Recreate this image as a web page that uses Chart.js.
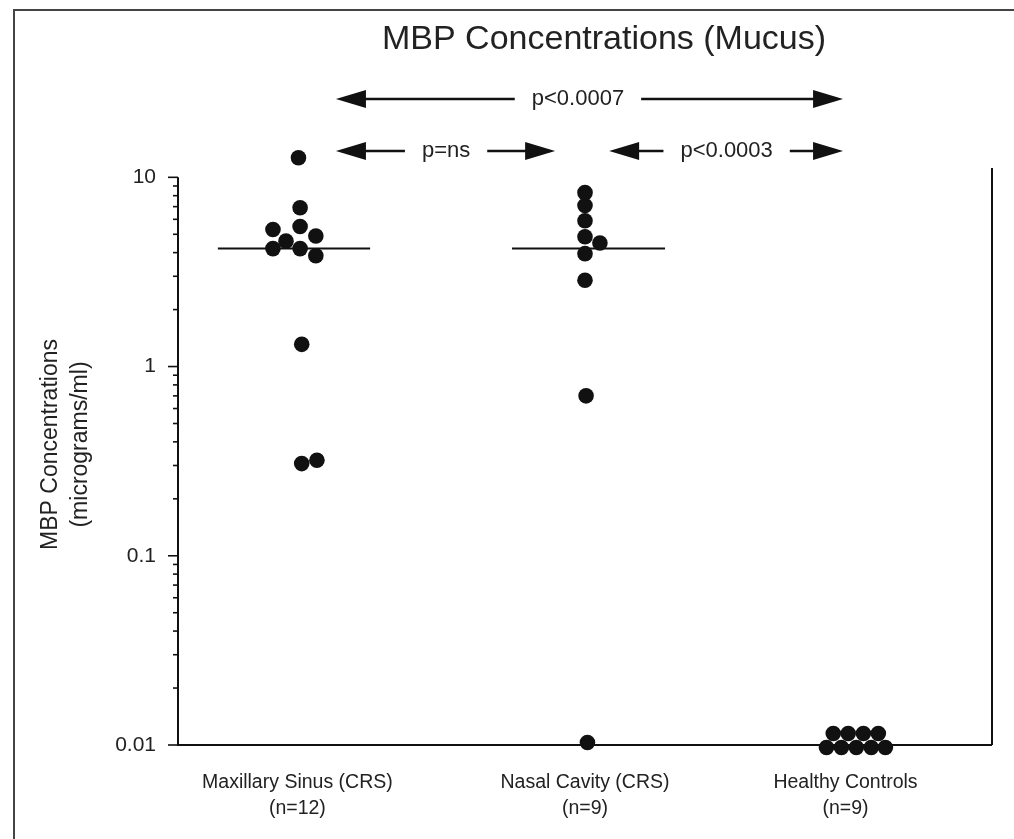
<!DOCTYPE html>
<html>
<head>
<meta charset="utf-8">
<script src="https://cdn.jsdelivr.net/npm/chart.js@4.4.1/dist/chart.umd.min.js"></script>
<style>
  html, body { margin: 0; padding: 0; background: #fff; }
  #wrap { width: 1014px; height: 839px; }
</style>
</head>
<body>
<div id="wrap"><canvas id="mbpChart"></canvas></div>
<script>
// groups on the x axis
const groupLabels = [['Maxillary Sinus (CRS)', '(n=12)'], ['Nasal Cavity (CRS)', '(n=9)'], ['Healthy Controls', '(n=9)']];
const labelPos = [0.44, 1.5, 2.46];
const groupPos = [0.45, 1.5, 2.5];

// MBP values (micrograms/ml)
const maxillaryValues = [12.7, 6.9, 5.3, 5.5, 4.9, 4.6, 4.2, 4.2, 3.85, 1.31, 0.307, 0.32];
const maxillaryJitter = [-0.006, 0, -0.1, 0, 0.058, -0.052, -0.1, 0, 0.058, 0.006, 0.006, 0.062];
const nasalValues = [8.3, 7.1, 5.9, 4.85, 4.5, 3.95, 2.86, 0.7, 0.0103];
const nasalJitter = [0, 0, 0, 0, 0.055, 0, 0, 0.004, 0.009];
const controlValues = [0.0115, 0.0115, 0.0115, 0.0115, 0.0097, 0.0097, 0.0097, 0.0097, 0.0097];
const controlJitter = [-0.085, -0.03, 0.026, 0.081, -0.11, -0.055, 0, 0.055, 0.107];

// median bars
const medianValues = [4.2, 4.2];
const medianSpans = [[0.147, 0.708], [1.231, 1.795]];

// y ticks
const yMajor = [0.01, 0.1, 1, 10];
const yMajorLabels = ['0.01', '0.1', '1', '10'];
const yTicks = [];
yMajor.slice(0, 3).forEach(d => { for (let m = 1; m < 10; m++) yTicks.push(m * d); });
yTicks.push(10);

// significance brackets
const pLabels = ['p<0.0007', 'p=ns', 'p<0.0003'];
const pFrom = [0.582, 0.582, 1.589];
const pTo = [2.451, 1.39, 2.451];
const pMid = [1.474, 0.988, 2.022];
const pRowY = [99, 151, 151];

const ink = '#111';
const font = '"Liberation Sans", Arial, sans-serif';

function pts(vals, jit, g) {
  return vals.map((v, i) => ({ x: groupPos[g] + jit[i], y: v }));
}

const dotStyle = {
  type: 'scatter', showLine: false, pointRadius: 7.8, pointHoverRadius: 7.8,
  pointBackgroundColor: ink, pointBorderWidth: 0, clip: false
};

const datasets = [
  Object.assign({ label: 'Maxillary Sinus', data: pts(maxillaryValues, maxillaryJitter, 0) }, dotStyle),
  Object.assign({ label: 'Nasal Cavity', data: pts(nasalValues, nasalJitter, 1) }, dotStyle),
  Object.assign({ label: 'Healthy Controls', data: pts(controlValues, controlJitter, 2) }, dotStyle)
];
medianValues.forEach((m, i) => {
  datasets.push({
    type: 'line', label: 'median', data: [{ x: medianSpans[i][0], y: m }, { x: medianSpans[i][1], y: m }],
    borderColor: ink, borderWidth: 2, pointRadius: 0, fill: false, order: 5
  });
});

function arrowHead(ctx, tipX, y, dir) {
  ctx.beginPath();
  ctx.moveTo(tipX, y);
  ctx.lineTo(tipX - dir * 30, y - 9);
  ctx.lineTo(tipX - dir * 30, y + 9);
  ctx.closePath();
  ctx.fill();
}

const decorations = {
  id: 'decorations',
  beforeDatasetsDraw(chart) {
    const ctx = chart.ctx, ys = chart.scales.y;
    const left = chart.chartArea.left, right = chart.chartArea.right;
    const y10 = ys.getPixelForValue(10), y001 = ys.getPixelForValue(0.01);
    ctx.save();
    // page frame
    ctx.strokeStyle = '#444';
    ctx.lineWidth = 2;
    ctx.beginPath();
    ctx.moveTo(14, 839); ctx.lineTo(14, 10); ctx.lineTo(1014, 10);
    ctx.stroke();
    // axes
    ctx.strokeStyle = ink;
    ctx.lineWidth = 2;
    ctx.beginPath();
    ctx.moveTo(left, y10); ctx.lineTo(left, y001); ctx.lineTo(right, y001);
    ctx.moveTo(right, y001); ctx.lineTo(right, ys.getPixelForValue(11.2));
    ctx.stroke();
    ctx.lineWidth = 1.6;
    ys.ticks.forEach(t => {
      const y = ys.getPixelForValue(t.value);
      const len = yMajor.includes(t.value) ? 10 : 5;
      ctx.beginPath(); ctx.moveTo(left - len, y); ctx.lineTo(left, y); ctx.stroke();
    });
    ctx.restore();
  },
  afterDraw(chart) {
    const ctx = chart.ctx, xs = chart.scales.x;
    ctx.save();
    ctx.fillStyle = '#222';
    ctx.textBaseline = 'middle';
    ctx.textAlign = 'center';
    ctx.font = '34px ' + font;
    ctx.fillText('MBP Concentrations (Mucus)', 604, 40);
    ctx.font = '22px ' + font;
    ctx.strokeStyle = ink;
    ctx.fillStyle = ink;
    ctx.lineWidth = 2.5;
    pLabels.forEach((lab, i) => {
      const y = pRowY[i];
      const a = xs.getPixelForValue(pFrom[i]);
      const b = xs.getPixelForValue(pTo[i]);
      const c = xs.getPixelForValue(pMid[i]);
      const w = ctx.measureText(lab).width / 2 + 17;
      ctx.fillStyle = '#222';
      ctx.fillText(lab, c, y);
      ctx.fillStyle = ink;
      ctx.beginPath();
      ctx.moveTo(a + 20, y); ctx.lineTo(c - w, y);
      ctx.moveTo(c + w, y); ctx.lineTo(b - 20, y);
      ctx.stroke();
      arrowHead(ctx, a, y, -1);
      arrowHead(ctx, b, y, 1);
    });
    ctx.restore();
  }
};

new Chart(document.getElementById('mbpChart').getContext('2d'), {
  type: 'scatter',
  data: { datasets: datasets },
  options: {
    responsive: true,
    maintainAspectRatio: false,
    animation: false,
    layout: { padding: { top: 144, right: 22, bottom: 0, left: 0 } },
    plugins: { legend: { display: false }, tooltip: { enabled: false }, title: { display: false } },
    scales: {
      x: {
        type: 'linear', min: 0, max: 3,
        grid: { display: false }, border: { display: false },
        afterBuildTicks: s => { s.ticks = labelPos.map(v => ({ value: v })); },
        afterFit: s => { s.height = 94; },
        ticks: {
          autoSkip: false, maxRotation: 0, padding: 16, color: '#222',
          font: { family: font, size: 19.5, lineHeight: 1.35 },
          callback: (v, i) => groupLabels[i]
        }
      },
      y: {
        type: 'logarithmic', min: 0.01, max: 15,
        grid: { display: false }, border: { display: false },
        afterBuildTicks: s => { s.ticks = yTicks.map(v => ({ value: v })); },
        afterFit: s => { s.width = 178; },
        ticks: {
          autoSkip: false, padding: 14, color: '#222',
          font: { family: font, size: 21 },
          callback: v => { const k = yMajor.indexOf(v); return k >= 0 ? yMajorLabels[k] : ''; }
        },
        title: {
          display: true, text: ['MBP Concentrations', '(micrograms/ml)'], color: '#222',
          font: { family: font, size: 23, lineHeight: 1.3 }, padding: { top: 36, bottom: 0 }
        }
      }
    }
  },
  plugins: [decorations]
});
</script>
</body>
</html>
